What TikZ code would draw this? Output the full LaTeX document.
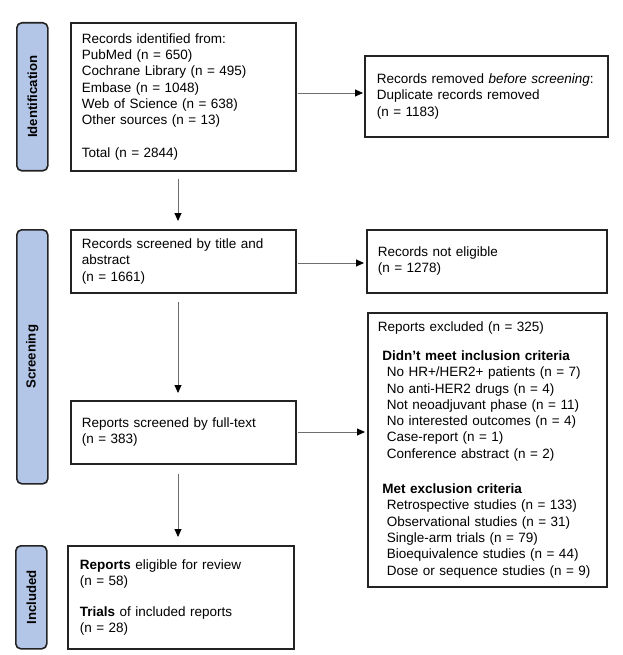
\documentclass[tikz,border=0pt]{standalone}
\usepackage{fontspec}
\setmainfont{Liberation Sans}
\usetikzlibrary{arrows.meta}
\definecolor{sidefill}{RGB}{180,198,231}
\definecolor{edge}{RGB}{35,35,35}
\definecolor{linkgray}{RGB}{110,110,110}
\tikzset{
  box/.style={draw=edge, line width=1.6pt, align=left, anchor=north west,
    inner ysep=0pt, font=\fontsize{13.5}{16.3}\selectfont},
  side/.style={draw=edge, fill=sidefill, line width=1.6pt, rounded corners=5pt,
    anchor=north west, inner sep=0pt},
  sidelabel/.style={rotate=90, font=\fontsize{13.2}{15}\selectfont\bfseries},
  link/.style={draw=linkgray, line width=0.9pt,
    -{Triangle[length=8pt,width=7pt,color=black,fill=black]}},
}
\begin{document}
\begin{tikzpicture}[x=1pt,y=-1pt]
\useasboundingbox (0,0) rectangle (622,655);

% side phase boxes
\node[side, minimum width=31pt, minimum height=148pt] (sid) at (16,22) {};
\node[sidelabel] (sidl) at (sid.center) {Identification};
\node[side, minimum width=31pt, minimum height=254pt] (ssc) at (16,229) {};
\node[sidelabel] (sscl) at (ssc.center) {Screening};
\node[side, minimum width=31pt, minimum height=103pt] (sin) at (15,545) {};
\node[sidelabel] (sinl) at (sin.center) {Included};

% main boxes
\node[box, inner xsep=11pt, text width=203pt, minimum height=148pt] (id1) at (70,22)
  {Records identified from:\\
   PubMed (n = 650)\\
   Cochrane Library (n = 495)\\
   Embase (n = 1048)\\
   Web of Science (n = 638)\\
   Other sources (n = 13)\\[16.3pt]
   Total (n = 2844)};

\node[box, inner xsep=12pt, text width=219pt, minimum height=81pt] (dup) at (364,55)
  {Records removed \textit{before screening}:\\
   Duplicate records removed\\
   (n = 1183)};

\node[box, inner xsep=11pt, text width=203pt, minimum height=63pt] (scr1) at (70,229)
  {Records screened by title and\\
   abstract\\
   (n = 1661)};

\node[box, inner xsep=11pt, text width=218pt, minimum height=63pt] (notel) at (366,229)
  {Records not eligible\\
   (n = 1278)};

\node[box, inner xsep=11pt, text width=203pt, minimum height=63pt] (scr2) at (70,400)
  {Reports screened by full-text\\
   (n = 383)};

\node[box, inner xsep=10pt, text width=219pt, minimum height=274pt] (excl) at (367,312)
  {Reports excluded (n = 325)\\[12.7pt]
   \hspace*{4.5pt}\textbf{Didn’t meet inclusion criteria}\\
   \hspace*{9pt}No HR+/HER2+ patients (n = 7)\\
   \hspace*{9pt}No anti-HER2 drugs (n = 4)\\
   \hspace*{9pt}Not neoadjuvant phase (n = 11)\\
   \hspace*{9pt}No interested outcomes (n = 4)\\
   \hspace*{9pt}Case-report (n = 1)\\
   \hspace*{9pt}Conference abstract (n = 2)\\[19pt]
   \hspace*{4.5pt}\textbf{Met exclusion criteria}\\
   \hspace*{9pt}Retrospective studies (n = 133)\\
   \hspace*{9pt}Observational studies (n = 31)\\
   \hspace*{9pt}Single-arm trials (n = 79)\\
   \hspace*{9pt}Bioequivalence studies (n = 44)\\
   \hspace*{9pt}Dose or sequence studies (n = 9)};

\node[box, inner xsep=12pt, text width=202pt, minimum height=103pt] (incl) at (67,545)
  {\textbf{Reports} eligible for review\\
   (n = 58)\\[14.3pt]
   \textbf{Trials} of included reports\\
   (n = 28)};

% connectors
\coordinate (ax) at (178,0);
\coordinate (h1) at (0,93);
\coordinate (h2) at (0,263);
\coordinate (h3) at (0,432);

\draw[link, shorten <=7pt, shorten >=8pt] (id1.south -| ax) -- (scr1.north -| ax);
\draw[link, shorten <=8pt, shorten >=7pt] (scr1.south -| ax) -- (scr2.north -| ax);
\draw[link, shorten <=9pt, shorten >=8pt] (scr2.south -| ax) -- (incl.north -| ax);

\draw[link, shorten <=1pt, shorten >=1pt] (id1.east |- h1) -- (dup.west |- h1);
\draw[link, shorten <=1pt, shorten >=2pt] (scr1.east |- h2) -- (notel.west |- h2);
\draw[link, shorten <=1pt, shorten >=2pt] (scr2.east |- h3) -- (excl.west |- h3);
\end{tikzpicture}
\end{document}
